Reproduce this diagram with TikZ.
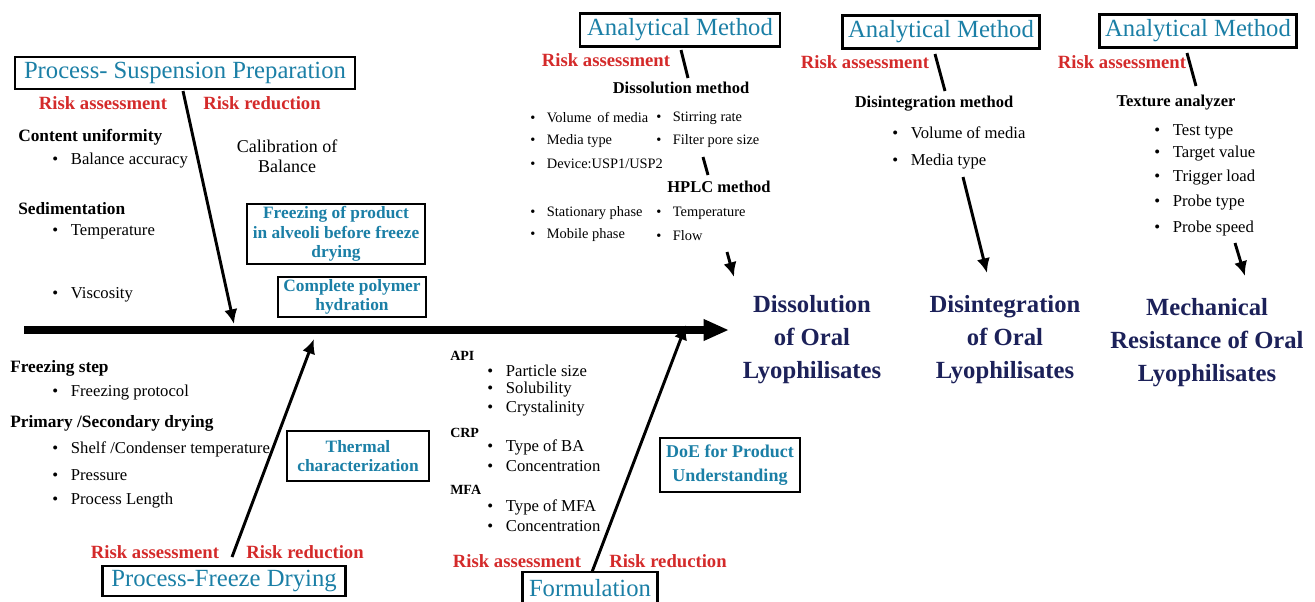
\documentclass[tikz,border=0pt]{standalone}
\usepackage{fontspec}
\setmainfont{Liberation Serif}
\usetikzlibrary{positioning,arrows.meta}
\definecolor{riskred}{HTML}{D42A2A}
\definecolor{titleblue}{HTML}{1B7FA6}
\definecolor{resnavy}{HTML}{1C2159}
\newcommand{\bulit}[1]{\makebox[14pt][l]{\textbullet}#1}
\newcommand{\bulsm}[1]{\makebox[12.5pt][l]{\textbullet}#1}

\begin{document}
\begin{tikzpicture}[
	x=0.75pt, y=-0.75pt,
	titlebox/.style={draw, line width=2pt, text=titleblue, font=\fontsize{18.5}{21}\selectfont, inner sep=0pt, minimum height=24pt},
	risk/.style={text=riskred, font=\bfseries\fontsize{14}{16}\selectfont, inner sep=0pt},
	head/.style={anchor=west, font=\bfseries\fontsize{13}{15}\selectfont, inner sep=0pt},
	mhead/.style={font=\bfseries\fontsize{12.4}{14}\selectfont, inner sep=0pt},
	item/.style={anchor=west, font=\fontsize{12.5}{14}\selectfont, inner sep=0pt},
	smhead/.style={anchor=west, font=\bfseries\fontsize{10.5}{12}\selectfont, inner sep=0pt},
	smitem/.style={anchor=west, font=\fontsize{10.8}{12}\selectfont, inner sep=0pt},
	bluebox/.style={draw, line width=1.5pt, text=titleblue, align=center, font=\bfseries\fontsize{13}{14.6}\selectfont, inner sep=0pt},
	result/.style={text=resnavy, align=center, font=\bfseries\fontsize{18.5}{24.75}\selectfont, inner sep=0pt},
	rib/.style={line width=2.2pt, -{Latex[length=11pt,width=10pt]}},
	tick/.style={line width=2.2pt}
	]
	\useasboundingbox (0,0) rectangle (1315,601);
	
	% main spine
	\coordinate (sp0) at (24,330);
	\coordinate (sp1) at (729,330);
	\draw[line width=5.3pt, -{Triangle[length=19pt,width=15pt]}] (sp0) -- (sp1);
	
	% process - suspension preparation
	\node[titlebox, minimum width=255pt] (psp) at (185,73) {Process- Suspension Preparation};
	\node[risk] (ra1) at (103,103) {Risk assessment};
	\node[risk] (rr1) at (262,103) {Risk reduction};
	\node[head] (cu) at (18,137) {Content uniformity};
	\node[item] (ba) at (52,161) {\bulit{Balance accuracy}};
	\node[align=center, font=\fontsize{13.5}{15}\selectfont] (cal) at (287,156) {Calibration of\\Balance};
	\node[head] (sed) at (18,209) {Sedimentation};
	\node[item] (tmp1) at (52,232) {\bulit{Temperature}};
	\node[item] (vis) at (52,295) {\bulit{Viscosity}};
	\node[bluebox, minimum width=133pt, minimum height=45pt] (frz) at (336,234) {Freezing of product\\in alveoli before freeze\\drying};
	\node[bluebox, minimum width=111pt, minimum height=30pt] (cph) at (352,297) {Complete polymer\\hydration};
	\coordinate (psp0) at (183,91);
	\coordinate (psp1) at (234,324);
	\draw[rib] (psp0) -- (psp1);
	
	% process - freeze drying
	\node[head] (fs) at (10,368) {Freezing step};
	\node[item] (fp) at (52,393) {\bulit{Freezing protocol}};
	\node[head] (psd) at (10,423) {Primary /Secondary drying};
	\node[item] (sct) at (52,449) {\bulit{Shelf /Condenser temperature}};
	\node[item] (prs) at (52,475) {\bulit{Pressure}};
	\node[item] (pl) at (52,501) {\bulit{Process Length}};
	\node[bluebox, minimum width=107pt, minimum height=38pt] (thc) at (358,456) {Thermal\\characterization};
	\node[risk] (ra2) at (155,552) {Risk assessment};
	\node[risk] (rr2) at (305,552) {Risk reduction};
	\node[titlebox, minimum width=182pt, minimum height=22.5pt] (pfd) at (224,581) {Process-Freeze Drying};
	\coordinate (pfd0) at (232,557);
	\coordinate (pfd1) at (314,339);
	\draw[rib] (pfd0) -- (pfd1);
	
	% formulation
	\node[smhead] (api) at (450,356) {API};
	\node[item] (ps) at (487,371) {\bulit{Particle size}};
	\node[item] (sol) at (487,390) {\bulit{Solubility}};
	\node[item] (cry) at (487,409) {\bulit{Crystalinity}};
	\node[smhead] (crp) at (450,433) {CRP};
	\node[item] (tba) at (487,447) {\bulit{Type of BA}};
	\node[item] (con1) at (487,466) {\bulit{Concentration}};
	\node[smhead] (mfa) at (450,490) {MFA};
	\node[item] (tmfa) at (487,507) {\bulit{Type of MFA}};
	\node[item] (con2) at (487,526) {\bulit{Concentration}};
	\node[bluebox, minimum width=105pt, minimum height=40pt, font=\bfseries\fontsize{13.5}{18}\selectfont] (doe) at (730,465) {DoE for Product\\Understanding};
	\node[risk] (ra3) at (517,561) {Risk assessment};
	\node[risk] (rr3) at (668,561) {Risk reduction};
	\node[titlebox, minimum width=101pt, minimum height=24pt] (form) at (590,588) {Formulation};
	\coordinate (form0) at (592,572);
	\coordinate (form1) at (686,325);
	\draw[rib] (form0) -- (form1);
	
	% analytical method - dissolution
	\node[titlebox, minimum width=150pt, minimum height=25pt] (am1) at (680,30) {Analytical Method};
	\node[risk] (ra4) at (606,60) {Risk assessment};
	\coordinate (am10) at (681,50);
	\coordinate (am11) at (688,78);
	\draw[tick] (am10) -- (am11);
	\node[mhead] (dm) at (681,88) {Dissolution method};
	\node[smitem] (vom1) at (530,118) {\bulsm{Volume\, of media}};
	\node[smitem] (mt1) at (530,141) {\bulsm{Media type}};
	\node[smitem] (dev) at (530,164) {\bulsm{Device:USP1/USP2}};
	\node[smitem] (stir) at (656,118) {\bulsm{Stirring rate}};
	\node[smitem] (fps) at (656,141) {\bulsm{Filter pore size}};
	\coordinate (dm0) at (703,157);
	\coordinate (dm1) at (708,175);
	\draw[tick] (dm0) -- (dm1);
	\node[mhead] (hplc) at (719,187) {HPLC method};
	\node[smitem] (stp) at (530,213) {\bulsm{Stationary phase}};
	\node[smitem] (mop) at (530,235) {\bulsm{Mobile phase}};
	\node[smitem] (tmp2) at (656,213) {\bulsm{Temperature}};
	\node[smitem] (flow) at (656,236) {\bulsm{Flow}};
	\coordinate (hplc0) at (727,252);
	\coordinate (hplc1) at (734,277);
	\draw[rib] (hplc0) -- (hplc1);
	
	% analytical method - disintegration
	\node[titlebox, minimum width=148pt, minimum height=25pt] (am2) at (941,32) {Analytical Method};
	\node[risk] (ra5) at (865,62) {Risk assessment};
	\coordinate (am20) at (935,54);
	\coordinate (am21) at (945,91);
	\draw[tick] (am20) -- (am21);
	\node[mhead] (dgm) at (934,104) {Disintegration method};
	\node[item] (vom2) at (892,133) {\bulit{Volume of media}};
	\node[item] (mt2) at (892,162) {\bulit{Media type}};
	\coordinate (dgm0) at (963,177);
	\coordinate (dgm1) at (987,273);
	\draw[rib] (dgm0) -- (dgm1);
	
	% analytical method - texture
	\node[titlebox, minimum width=148pt, minimum height=25pt] (am3) at (1198,31) {Analytical Method};
	\node[risk] (ra6) at (1122,62) {Risk assessment};
	\coordinate (am30) at (1187,53);
	\coordinate (am31) at (1196,86);
	\draw[tick] (am30) -- (am31);
	\node[mhead] (tex) at (1176,103) {Texture analyzer};
	\node[item] (tt) at (1154,132) {\bulit{Test type}};
	\node[item] (tv) at (1154,154) {\bulit{Target value}};
	\node[item] (tl) at (1154,178) {\bulit{Trigger load}};
	\node[item] (pt) at (1154,203) {\bulit{Probe type}};
	\node[item] (psp2) at (1154,228) {\bulit{Probe speed}};
	\coordinate (tex0) at (1235,243);
	\coordinate (tex1) at (1245,276);
	\draw[rib] (tex0) -- (tex1);
	
	% outcomes
	\node[result] (dis) at (812,340) {Dissolution\\of Oral\\Lyophilisates};
	\node[result] (dig) at (1005,340) {Disintegration\\of Oral\\Lyophilisates};
	\node[result] (mech) at (1207,343) {Mechanical\\Resistance of Oral\\Lyophilisates};
	
\end{tikzpicture}
\end{document}
